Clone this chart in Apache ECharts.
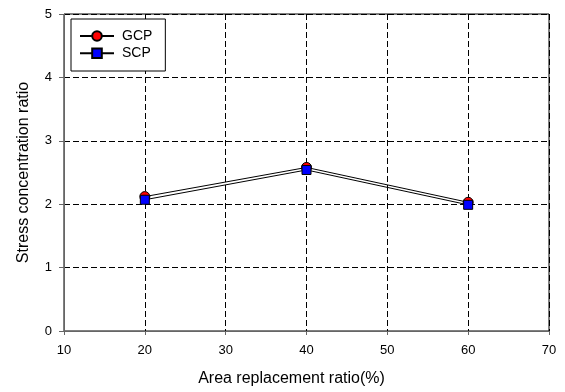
<!DOCTYPE html>
<html>
<head>
<meta charset="utf-8">
<script src="https://cdn.jsdelivr.net/npm/echarts@6/dist/echarts.min.js"></script>
<style>html,body{margin:0;padding:0;background:#fff}#c{width:565px;height:392px}</style>
</head>
<body>
<div id="c"></div>
<script>
var xValues = [20, 40, 60];
var gcp = [2.12, 2.58, 2.03];
var scp = [2.07, 2.54, 1.99];
var xTitle = 'Area replacement ratio(%)';
var yTitle = 'Stress concentration ratio';

var font = 'Liberation Sans, Arial, sans-serif';
function pairs(xs, ys) { return xs.map(function (x, i) { return [x, ys[i]]; }); }

var chart = echarts.init(document.getElementById('c'));
chart.setOption({
  animation: false,
  backgroundColor: '#fff',
  grid: { left: 64, top: 14, width: 485, height: 317, show: true, borderColor: '#000', borderWidth: 1, containLabel: false },
  legend: {
    left: 71, top: 19, orient: 'vertical',
    itemWidth: 34, itemHeight: 12, itemGap: 3.3,
    padding: [10, 13, 10.7, 8],
    borderColor: '#000', borderWidth: 1, backgroundColor: '#fff',
    textStyle: { fontFamily: font, fontSize: 14, lineHeight: 14, color: '#000', padding: [0, 0, 0, 3] },
    data: ['GCP', 'SCP']
  },
  xAxis: {
    type: 'value', min: 10, max: 70, interval: 10,
    name: xTitle, nameLocation: 'middle', nameGap: 40,
    nameTextStyle: { fontFamily: font, fontSize: 16, color: '#000', padding: [0, 30, 0, 0] },
    axisLine: { lineStyle: { color: '#666', width: 1 } },
    axisTick: { show: true, length: 4, lineStyle: { color: '#666' } },
    axisLabel: { fontFamily: font, fontSize: 13, color: '#000', margin: 13 },
    splitLine: { show: true, lineStyle: { color: '#000', type: [6, 3], width: 1 } }
  },
  yAxis: {
    type: 'value', min: 0, max: 5, interval: 1,
    name: yTitle, nameLocation: 'middle', nameGap: 32,
    nameTextStyle: { fontFamily: font, fontSize: 16, color: '#000' },
    axisLine: { show: true, lineStyle: { color: '#666', width: 1 } },
    axisTick: { show: true, length: 5, lineStyle: { color: '#666' } },
    axisLabel: { fontFamily: font, fontSize: 13, color: '#000', margin: 12 },
    splitLine: { show: true, lineStyle: { color: '#000', type: [6, 3], width: 1 } }
  },
  series: [
    {
      name: 'GCP', type: 'line', data: pairs(xValues, gcp),
      symbol: 'circle', symbolSize: 10,
      lineStyle: { color: '#000', width: 1 },
      itemStyle: { color: '#ff0000', borderColor: '#000', borderWidth: 1 }
    },
    {
      name: 'SCP', type: 'line', data: pairs(xValues, scp),
      symbol: 'rect', symbolSize: 9,
      lineStyle: { color: '#000', width: 1 },
      itemStyle: { color: '#0000ff', borderColor: '#000', borderWidth: 1 }
    }
  ]
});
</script>
</body>
</html>
